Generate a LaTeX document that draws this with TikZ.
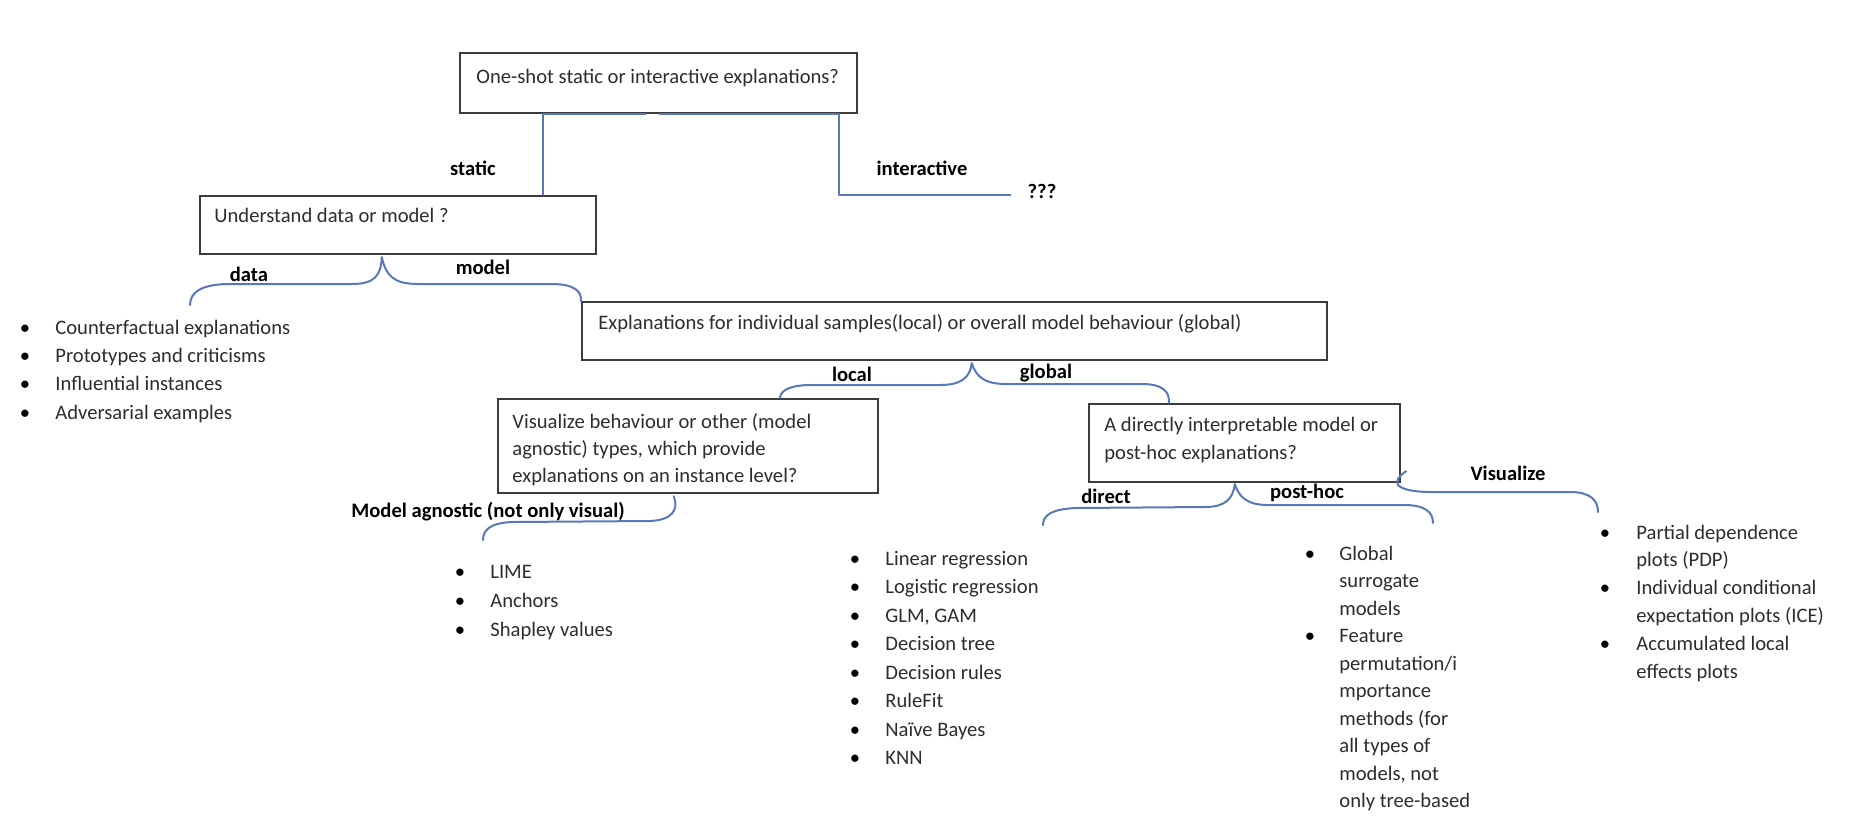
\documentclass[tikz,border=0pt]{standalone}
\usepackage{fontspec}
\setmainfont{Carlito}
\usetikzlibrary{calc}
\definecolor{connc}{RGB}{88,120,185}
\definecolor{boxc}{RGB}{60,60,60}
\definecolor{txtc}{RGB}{45,45,45}
\tikzset{
  box/.style={draw=boxc, line width=1.2pt, inner sep=0pt},
  txt/.style={font=\fontsize{10.3}{12}\selectfont, text=txtc, inner sep=0pt, anchor=base west},
  lbl/.style={font=\fontsize{10.3}{12}\selectfont\bfseries, text=black, inner sep=0pt, anchor=base},
  bul/.style={font=\fontsize{10.3}{12}\selectfont, text=black, inner sep=0pt, anchor=base},
  conn/.style={draw=connc, line width=1pt, line cap=round, line join=round},
}
\begin{document}
\begin{tikzpicture}[x=0.5pt,y=-0.5pt]
\useasboundingbox[fill=white] (0,0) rectangle (1859,827);

% boxes
\node[box, minimum width=198.5pt, minimum height=30pt] (b1) at (658.5,83) {};
\node[box, minimum width=198pt, minimum height=29pt] (b2) at (398,225) {};
\node[box, minimum width=372.5pt, minimum height=29pt] (b3) at (954.5,331) {};
\node[box, minimum width=190pt, minimum height=47pt] (b4) at (688,446) {};
\node[box, minimum width=155.5pt, minimum height=39pt] (b5) at (1244.5,443) {};

% box texts
\node[txt] (t1) at (476,83) {One-shot static or interactive explanations?};
\node[txt] (t2) at (214,222) {Understand data or model ?};
\node[txt] (t3) at (598,329) {Explanations for individual samples(local) or overall model behaviour (global)};
\node[txt] (t4a) at (512,428) {Visualize behaviour or other (model};
\node[txt] (t4b) at (512,455) {agnostic) types, which provide};
\node[txt] (t4c) at (512,482) {explanations on an instance level?};
\node[txt] (t5a) at (1104,431) {A directly interpretable model or};
\node[txt] (t5b) at (1104,459) {post-hoc explanations?};

% top connectors
\node[lbl] (q) at (1042,198) {???};
\coordinate (qend) at ($(q.west |- b2.north)+(-17,0)$);
\coordinate (qcorner) at ($(b1.south |- b2.north)+(180,0)$);
\draw[conn] ($(b1.south)+(-13,0)$) -| ($(b2.north west)+(344,0)$);
\draw[conn] ($(b1.south)+(1,0)$) -| (qcorner) -- (qend);
\node[lbl] (ls) at (473,175) {static};
\node[lbl] (li) at (922,175) {interactive};

% brace under b2
\coordinate (ta) at ($(b2.south west)+(183,2)$);
\coordinate (da) at (190,305);
\draw[conn] (da) .. controls (190,292) and (202,284) .. (230,284) -- (352,284)
  .. controls (374,284) and (381,276) .. (ta);
\draw[conn] (ta) .. controls (386,276) and (394,284) .. (418,284) -- (552,284)
  .. controls (575,284) and (582,292) .. (b3.north west);
\node[lbl] (ld) at (249,281) {data};
\node[lbl] (lm) at (483,274) {model};

% brace under b3
\coordinate (tb) at ($(b3.south west)+(391,2)$);
\draw[conn] (tb) .. controls (970,377) and (962,385) .. (940,385) -- (812,385)
  .. controls (790,385) and (781,390) .. ($(b4.north west)+(283,0)$);
\draw[conn] (tb) .. controls (976,377) and (985,384) .. (1006,384) -- (1142,384)
  .. controls (1163,384) and (1170,392) .. ($(b5.north west)+(81,0)$);
\node[lbl] (ll) at (852,381) {local};
\node[lbl] (lg) at (1046,378) {global};

% model agnostic brace
\coordinate (ma) at (483,540);
\draw[conn] ($(b4.south west)+(177,2)$) .. controls (679,510) and (672,520) .. (650,521) -- (512,522)
  .. controls (490,523) and (483,530) .. (ma);
\node[lbl] (lma) at (488,517) {Model agnostic (not only visual)};

% brace under b5
\coordinate (tc) at ($(b5.south west)+(147,1)$);
\coordinate (dl) at (1043,525);
\coordinate (pl) at (1433,523);
\draw[conn] (tc) .. controls (1233,499) and (1225,507) .. (1205,507) -- (1076,508)
  .. controls (1052,509) and (1043,515) .. (dl);
\draw[conn] (tc) .. controls (1239,497) and (1247,505) .. (1268,505) -- (1404,505)
  .. controls (1425,505) and (1433,512) .. (pl);
\node[lbl] (ldir) at (1106,503) {direct};
\node[lbl] (lph) at (1307,498) {post-hoc};

% visualize connector
\coordinate (vl) at (1598,512);
\draw[conn] ($(b5.south east)+(5,-12)$) .. controls (1399,476) and (1395,481) .. (1398,485)
  .. controls (1403,490) and (1415,492) .. (1432,492) -- (1570,492)
  .. controls (1590,492) and (1598,500) .. (vl);
\node[lbl] (lv) at (1508,480) {Visualize};

% list: data
\foreach \t [count=\i] in {Counterfactual explanations, Prototypes and criticisms, Influential instances, Adversarial examples}{
  \node[bul] (da-b\i) at (25,{334+(\i-1)*28.4}) {\textbullet};
  \node[txt] (da-t\i) at (55,{334+(\i-1)*28.4}) {\t};
}
% list: model agnostic
\foreach \t [count=\i] in {LIME, Anchors, Shapley values}{
  \node[bul] (ma-b\i) at (460,{578+(\i-1)*29}) {\textbullet};
  \node[txt] (ma-t\i) at (490,{578+(\i-1)*29}) {\t};
}
% list: direct
\foreach \t [count=\i] in {Linear regression, Logistic regression, {GLM, GAM}, Decision tree, Decision rules, RuleFit, Naïve Bayes, KNN}{
  \node[bul] (di-b\i) at (855,{565+(\i-1)*28.5}) {\textbullet};
  \node[txt] (di-t\i) at (885,{565+(\i-1)*28.5}) {\t};
}
% list: post-hoc
\foreach \t [count=\i] in {Global, surrogate, models, Feature, permutation/i, mportance, methods (for, all types of, {models, not}, only tree-based}{
  \node[txt] (ph-t\i) at (1339,{560+(\i-1)*27.5}) {\t};
}
\node[bul] (ph-b1) at (1310,560) {\textbullet};
\node[bul] (ph-b2) at (1310,642.5) {\textbullet};
% list: visualize
\foreach \t [count=\i] in {Partial dependence, plots (PDP), Individual conditional, expectation plots (ICE), Accumulated local, effects plots}{
  \node[txt] (vi-t\i) at (1636,{539+(\i-1)*27.8}) {\t};
}
\node[bul] (vi-b1) at (1605,539) {\textbullet};
\node[bul] (vi-b2) at (1605,594.6) {\textbullet};
\node[bul] (vi-b3) at (1605,650.2) {\textbullet};
\end{tikzpicture}
\end{document}
